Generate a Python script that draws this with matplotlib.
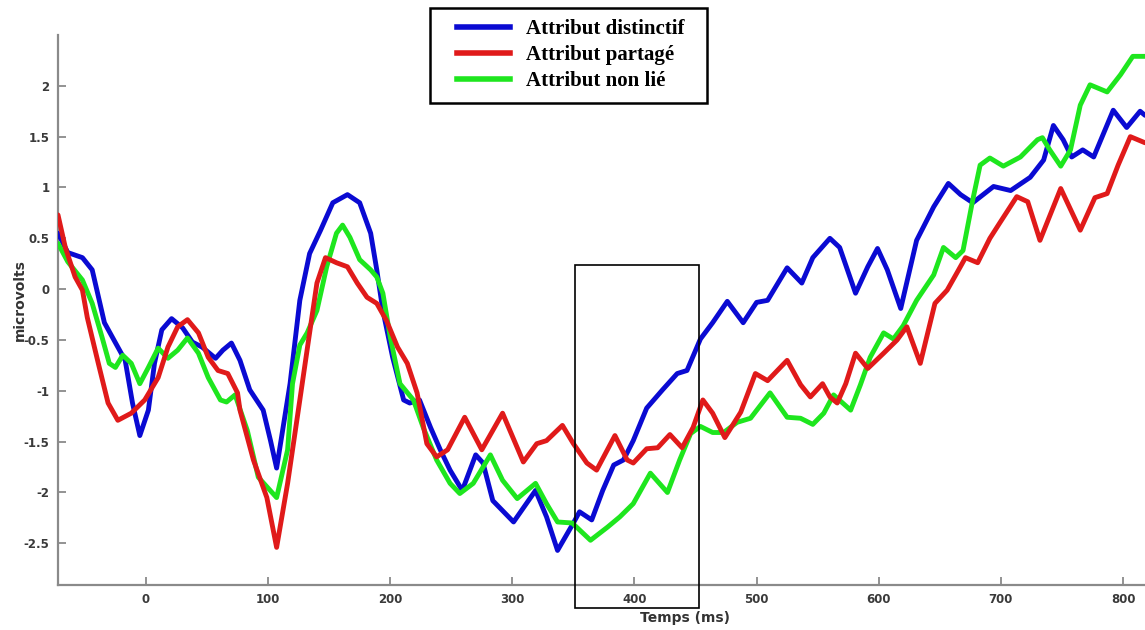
import matplotlib
matplotlib.use("Agg")
import matplotlib.pyplot as plt
from matplotlib.patches import Rectangle
from matplotlib.lines import Line2D

plt.rcParams['axes.unicode_minus'] = False

# ---- data (ms, microvolts) ----
t_blue = [-72, -64, -52, -44, -34, -23, -17, -11, -5, 2, 7, 13, 21, 30, 38, 46, 57, 63, 70, 77,
          85, 96, 102, 107, 118, 126, 134, 143, 153, 165, 175, 184, 189, 194, 202, 211, 216, 224,
          233, 241, 249, 259, 270, 276, 284, 301, 319, 328, 337, 350, 355, 365, 374, 383, 391,
          399, 410, 423, 435, 443, 454, 464, 476, 489, 500, 509, 525, 537, 546, 560, 568, 581,
          591, 599, 607, 618, 631, 645, 657, 667, 677, 694, 708, 724, 735, 743, 751, 758, 767,
          776, 792, 803, 814, 818]
v_blue = [0.55, 0.36, 0.31, 0.19, -0.33, -0.57, -0.70, -1.12, -1.44, -1.19, -0.73, -0.40, -0.29,
          -0.38, -0.52, -0.57, -0.68, -0.60, -0.53, -0.70, -0.99, -1.19, -1.49, -1.76, -0.93,
          -0.11, 0.35, 0.58, 0.85, 0.93, 0.85, 0.55, 0.19, -0.21, -0.67, -1.09, -1.12, -1.09,
          -1.36, -1.58, -1.78, -1.98, -1.63, -1.71, -2.08, -2.29, -1.98, -2.24, -2.57, -2.30,
          -2.19, -2.27, -1.98, -1.73, -1.68, -1.49, -1.17, -0.99, -0.83, -0.80, -0.49, -0.33,
          -0.12, -0.33, -0.13, -0.11, 0.21, 0.06, 0.31, 0.50, 0.41, -0.04, 0.22, 0.40, 0.19,
          -0.19, 0.48, 0.81, 1.04, 0.93, 0.85, 1.01, 0.97, 1.10, 1.27, 1.61, 1.47, 1.30, 1.37,
          1.30, 1.76, 1.59, 1.75, 1.71]

t_red = [-72, -66, -58, -52, -48, -39, -31, -23, -12, -1, 10, 18, 26, 34, 43, 51, 59, 67, 75, 77,
         88, 99, 107, 116, 126, 134, 140, 147, 156, 165, 173, 181, 189, 197, 206, 214, 222, 230,
         238, 247, 261, 275, 292, 309, 320, 328, 341, 350, 361, 369, 384, 394, 399, 410, 419,
         429, 439, 448, 456, 464, 474, 487, 499, 509, 525, 536, 544, 554, 560, 566, 573, 581,
         591, 604, 615, 623, 634, 646, 656, 664, 671, 681, 691, 699, 713, 722, 732, 749, 765,
         777, 787, 796, 806, 818]
v_red = [0.73, 0.41, 0.12, -0.01, -0.28, -0.73, -1.12, -1.29, -1.22, -1.09, -0.87, -0.57, -0.37,
         -0.30, -0.43, -0.67, -0.80, -0.83, -1.02, -1.19, -1.68, -2.05, -2.54, -1.91, -1.09,
         -0.43, 0.06, 0.31, 0.26, 0.22, 0.06, -0.08, -0.14, -0.31, -0.57, -0.73, -1.02, -1.52,
         -1.65, -1.58, -1.26, -1.58, -1.22, -1.70, -1.52, -1.49, -1.34, -1.52, -1.71, -1.78,
         -1.44, -1.68, -1.71, -1.57, -1.56, -1.43, -1.56, -1.36, -1.09, -1.22, -1.46, -1.21,
         -0.83, -0.90, -0.70, -0.94, -1.06, -0.93, -1.06, -1.12, -0.93, -0.63, -0.78, -0.63,
         -0.50, -0.37, -0.73, -0.14, -0.01, 0.16, 0.31, 0.26, 0.50, 0.65, 0.91, 0.86, 0.48,
         0.99, 0.58, 0.90, 0.94, 1.22, 1.50, 1.44]

t_green = [-72, -64, -52, -44, -36, -30, -25, -19, -12, -5, 2, 10, 18, 26, 34, 43, 51, 61, 66, 73,
           83, 92, 107, 116, 120, 126, 132, 140, 148, 156, 161, 167, 175, 184, 189, 194, 200, 208,
           219, 227, 238, 249, 257, 268, 282, 292, 304, 319, 328, 337, 349, 364, 378, 388, 399,
           413, 427, 437, 446, 454, 464, 473, 484, 495, 511, 525, 536, 546, 555, 563, 577, 585,
           593, 604, 612, 620, 631, 645, 653, 663, 669, 677, 683, 691, 702, 716, 730, 734, 740,
           749, 757, 765, 773, 787, 798, 808, 818]
v_green = [0.45, 0.27, 0.09, -0.14, -0.47, -0.73, -0.77, -0.65, -0.73, -0.93, -0.77, -0.58,
           -0.68, -0.60, -0.48, -0.63, -0.87, -1.09, -1.11, -1.04, -1.39, -1.85, -2.05, -1.58,
           -0.93, -0.55, -0.43, -0.21, 0.22, 0.55, 0.63, 0.51, 0.29, 0.19, 0.12, -0.04, -0.47,
           -0.93, -1.09, -1.36, -1.68, -1.91, -2.01, -1.91, -1.63, -1.88, -2.06, -1.91, -2.11,
           -2.29, -2.30, -2.47, -2.34, -2.24, -2.11, -1.81, -2.00, -1.68, -1.42, -1.35, -1.41,
           -1.41, -1.31, -1.27, -1.02, -1.26, -1.27, -1.33, -1.22, -1.04, -1.19, -0.94, -0.67,
           -0.43, -0.49, -0.36, -0.11, 0.14, 0.41, 0.31, 0.38, 0.88, 1.22, 1.29, 1.21, 1.30,
           1.47, 1.49, 1.37, 1.21, 1.37, 1.81, 2.01, 1.94, 2.11, 2.29, 2.29]

labels = ["Attribut distinctif", "Attribut partagé", "Attribut non lié"]
colors = ["#0a0ad2", "#e01a1a", "#1ee61e"]

x_ticks = [0, 100, 200, 300, 400, 500, 600, 700, 800]
y_ticks = [-2.5, -2, -1.5, -1, -0.5, 0, 0.5, 1, 1.5, 2]
y_tick_labels = ["-2.5", "-2", "-1.5", "-1", "-0.5", "0", "0.5", "1", "1.5", "2"]

window = (351, 453, -3.14, 0.236)  # highlighted time window (ms start, ms end, v low, v high)

# ---- figure ----
W, H = 1145, 630
fig = plt.figure(figsize=(W / 100, H / 100), dpi=100)
ax = fig.add_axes([58 / W, 1 - 585 / H, (W - 58) / W, (585 - 35) / H])

series = [(t_blue, v_blue), (t_green, v_green), (t_red, v_red)]
order_colors = [colors[0], colors[2], colors[1]]
for (t, v), c in zip(series, order_colors):
    ax.plot(t, v, color=c, lw=3.5, solid_joinstyle='round', solid_capstyle='round', zorder=3)

ax.set_xlim(-72, 818)
ax.set_ylim(-2.91, 2.5)

for s in ['top', 'right']:
    ax.spines[s].set_visible(False)
for s in ['left', 'bottom']:
    ax.spines[s].set_color('#8a8a8a')
    ax.spines[s].set_linewidth(1.6)

ax.set_xticks(x_ticks)
ax.set_xticklabels([str(x) for x in x_ticks])
ax.set_yticks(y_ticks)
ax.set_yticklabels(y_tick_labels)
ax.tick_params(direction='in', length=6, width=1.3, color='#8a8a8a',
               labelsize=8.5, labelcolor='#3a3a3a', pad=6)
for lab in ax.get_xticklabels() + ax.get_yticklabels():
    lab.set_fontweight('bold')

# highlighted window
ax.add_patch(Rectangle((window[0], window[2]), window[1] - window[0], window[3] - window[2],
                       fill=False, edgecolor='black', lw=1.2, clip_on=False, zorder=4))

fig.text(685 / W, 1 - 618 / H, "Temps (ms)", ha='center', va='center',
         fontsize=10, fontweight='bold', color='#333333')
fig.text(20 / W, 1 - 300 / H, "microvolts", ha='center', va='center', rotation=90,
         fontsize=10, fontweight='bold', color='#333333')

# legend (frame drawn separately to match the wide box of the original)
fig.add_artist(Rectangle((430 / W, 1 - 103 / H), 277 / W, 95 / H, transform=fig.transFigure,
                         fill=True, facecolor='white', edgecolor='black', lw=1.8, zorder=4))
handles = [Line2D([], [], color=c, lw=4) for c in colors]
leg = fig.legend(handles, labels, loc='upper left',
                 bbox_to_anchor=(457 / W, 1 - 19 / H), bbox_transform=fig.transFigure,
                 prop={'family': 'Liberation Serif', 'weight': 'bold', 'size': 15},
                 frameon=False, handlelength=2.55, handletextpad=0.75, labelspacing=0.3,
                 borderpad=0, borderaxespad=0)
leg.set_zorder(5)

fig.savefig("out.png", dpi=100)
